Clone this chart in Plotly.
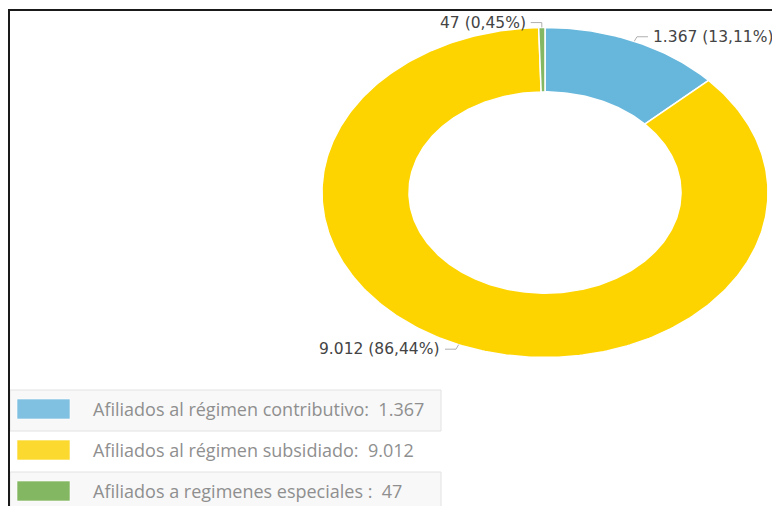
import numpy as np
import plotly.graph_objects as go

# ---------------- data ----------------
categories = ["Afiliados al régimen contributivo", "Afiliados al régimen subsidiado", "Afiliados a regimenes especiales "]
values = [1367, 9012, 47]
slice_colors = ["#67b7dc", "#fdd400", "#84b761"]
swatch_colors = ["#80c1e1", "#fcd92e", "#84b761"]

# ---------------- geometry (pixels of the 772x506 page) ----------------
W, H = 772, 506
CX, CY = 545, 192.5      # donut centre
RX, RY = 223, 165        # outer radii (the chart is drawn stretched)
HOLE = 0.61

def px(x):
    return x / W

def py(y):
    return 1 - y / H

def fmt_int(v):
    return f"{v:,}".replace(",", ".")

def fmt_pct(p):
    return f"{p:.2f}".replace(".", ",") + "%"

total = sum(values)
fracs = [v / total for v in values]

fig = go.Figure()

# slices: clockwise from 12 o'clock, unit ellipse coordinates mapped via axes
start = 0.0
label_info = []
for name, v, f, col in zip(categories, values, fracs, slice_colors):
    t0 = start * 2 * np.pi
    t1 = (start + f) * 2 * np.pi
    n = max(3, int(f * 400))
    t = np.linspace(t0, t1, n)
    xo, yo = np.sin(t), np.cos(t)
    xi, yi = HOLE * np.sin(t[::-1]), HOLE * np.cos(t[::-1])
    xs = np.concatenate([xo, xi, xo[:1]])
    ys = np.concatenate([yo, yi, yo[:1]])
    fig.add_trace(go.Scatter(x=xs, y=ys, mode="lines", fill="toself",
                             fillcolor=col, line=dict(color="white", width=1.5),
                             hoverinfo="skip", showlegend=False))
    label_info.append(((t0 + t1) / 2, v, f))
    start += f

# labels with leader lines
for tm, v, f in label_info:
    side = 1 if np.sin(tm) > 0.01 else -1
    x0, y0 = np.sin(tm), np.cos(tm)
    x1, y1 = 1.03 * np.sin(tm), 1.03 * np.cos(tm)
    x2 = x1 + side * 11 / RX
    fig.add_trace(go.Scatter(x=[x0, x1, x2], y=[y0, y1, y1], mode="lines",
                             line=dict(color="#b0b0b0", width=1),
                             hoverinfo="skip", showlegend=False))
    fig.add_annotation(x=x2 + side * 3 / RX, y=y1, xref="x", yref="y",
                       text=f"{fmt_int(v)} ({fmt_pct(f * 100)})",
                       showarrow=False, xanchor="left" if side > 0 else "right",
                       yanchor="middle",
                       font=dict(family="DejaVu Sans", size=15.5, color="#444444"))

shapes = []
# screenshot frame lines
shapes.append(dict(type="line", xref="paper", yref="paper", x0=px(8), x1=px(772), y0=py(10), y1=py(10),
                   line=dict(color="#1a1a1a", width=2)))
shapes.append(dict(type="line", xref="paper", yref="paper", x0=px(9), x1=px(9), y0=py(9), y1=py(506),
                   line=dict(color="#1a1a1a", width=2)))

# legend table
row_tops = [390, 431, 472]
row_h = 41
for i, (name, v, sc) in enumerate(zip(categories, values, swatch_colors)):
    top = row_tops[i]
    bot = top + row_h
    if i % 2 == 0:
        shapes.append(dict(type="rect", xref="paper", yref="paper", x0=px(10), x1=px(441),
                           y0=py(top), y1=py(min(bot, 520)),
                           fillcolor="#f8f8f8", line=dict(color="#e2e2e2", width=1), layer="below"))
    cy = top + 19
    shapes.append(dict(type="rect", xref="paper", yref="paper", x0=px(17), x1=px(70),
                       y0=py(cy - 10), y1=py(cy + 10), fillcolor=sc,
                       line=dict(color="rgba(255,255,255,0.6)", width=1)))
    fig.add_annotation(x=px(91), y=py(cy), xref="paper", yref="paper",
                       text=f"{name}:  {fmt_int(v)}", showarrow=False,
                       xanchor="left", yanchor="middle",
                       font=dict(family="Open Sans", size=18, color="#8f8f8f"))

fig.update_layout(
    width=W, height=H,
    margin=dict(l=0, r=0, t=0, b=0),
    paper_bgcolor="white", plot_bgcolor="white",
    showlegend=False,
    shapes=shapes,
    xaxis=dict(range=[-CX / RX, (W - CX) / RX], visible=False, fixedrange=True, domain=[0, 1]),
    yaxis=dict(range=[-(H - CY) / RY, CY / RY], visible=False, fixedrange=True, domain=[0, 1]),
)

fig.write_html("out.html", config={"displayModeBar": False},
               post_script="document.body.style.margin='0px';")
